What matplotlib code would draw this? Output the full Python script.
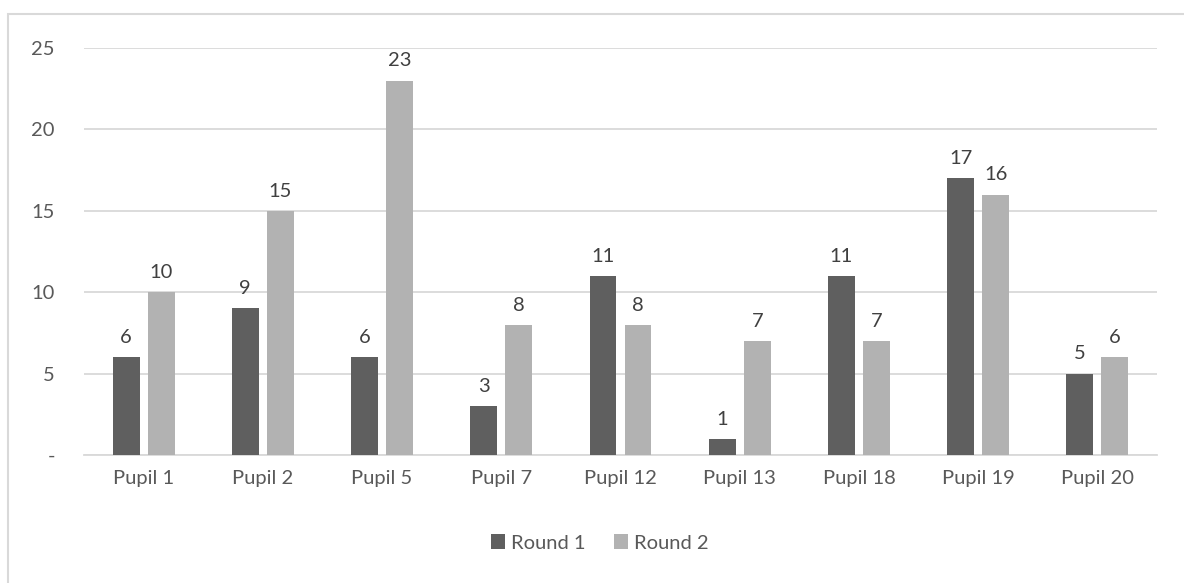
import matplotlib.pyplot as plt
import numpy as np
from matplotlib.patches import Rectangle

pupils = ["Pupil 1", "Pupil 2", "Pupil 5", "Pupil 7", "Pupil 12",
          "Pupil 13", "Pupil 18", "Pupil 19", "Pupil 20"]
round_1 = [6, 9, 6, 3, 11, 1, 11, 17, 5]
round_2 = [10, 15, 23, 8, 8, 7, 7, 16, 6]
y_ticks = [0, 5, 10, 15, 20, 25]
y_tick_labels = ["-", "5", "10", "15", "20", "25"]

TEXT = "#595959"
GRID = "#d9d9d9"
FS = 14.5
plt.rcParams["font.family"] = ["Lato", "DejaVu Sans"]

fig = plt.figure(figsize=(11.84, 5.83), dpi=100)
fig.patches.append(Rectangle((8 / 1184, -0.05), 1.2, 1.05 - 14 / 583,
                             transform=fig.transFigure, fill=False,
                             edgecolor=GRID, linewidth=1.5))
ax = fig.add_axes([84 / 1184, 1 - 455 / 583, (1157 - 84) / 1184, (455 - 48) / 583])

x = np.arange(len(pupils))
width = 0.226
offset = 0.147
bars_1 = ax.bar(x - offset, round_1, width, color="#5f5f5f", label="Round 1", zorder=3)
bars_2 = ax.bar(x + offset, round_2, width, color="#b2b2b2", label="Round 2", zorder=3)
for bars in (bars_1, bars_2):
    ax.bar_label(bars, padding=8, fontsize=FS, color="#404040")

ax.set_xlim(-0.5, len(pupils) - 0.5)
ax.set_ylim(0, 25)
ax.set_yticks(y_ticks)
ax.set_yticklabels(y_tick_labels)
ax.set_xticks(x)
ax.set_xticklabels(pupils)
ax.tick_params(axis="both", length=0, labelsize=FS, labelcolor=TEXT)
ax.tick_params(axis="y", pad=21)
ax.tick_params(axis="x", pad=11)
ax.grid(axis="y", color=GRID, linewidth=1.3, zorder=0)
for side in ("top", "right", "left"):
    ax.spines[side].set_visible(False)
ax.spines["bottom"].set_color(GRID)
ax.spines["bottom"].set_linewidth(1.3)

fig.legend(loc="center", bbox_to_anchor=(600 / 1184, 1 - 543 / 583), ncol=2,
           frameon=False, fontsize=FS, labelcolor=TEXT, handlelength=0.7,
           handleheight=0.7, handletextpad=0.3, columnspacing=1.4)

fig.savefig("out.png", dpi=100)
